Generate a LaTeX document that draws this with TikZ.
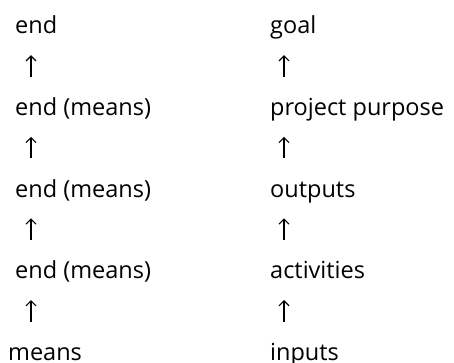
\documentclass[tikz,border=0pt]{standalone}
\usepackage{fontspec}
\setmainfont{Open Sans}
\usetikzlibrary{arrows.meta}

\tikzset{
  lbl/.style={anchor=base west, inner sep=0pt, text height=18pt, text depth=5pt,
    font=\fontsize{23.5}{28}\selectfont},
  up/.style={-{Straight Barb[length=5pt,width=10pt]}, line width=1.1pt,
    shorten <=20.6pt, shorten >=16pt}
}

\begin{document}
\begin{tikzpicture}[x=1pt,y=-1pt]
        \useasboundingbox (0,0) rectangle (454,363);
        \coordinate (L) at (31, 0);
        \coordinate (R) at (284, 0);
        % left column
        \node[lbl] (l0) at (15, 34) {end};
        \node[lbl] (l1) at (15, 115.6) {end (means)};
        \node[lbl] (l2) at (15, 197.2) {end (means)};
        \node[lbl] (l3) at (15, 278.8) {end (means)};
        \node[lbl] (l4) at (8, 360.4) {means};
        % right column
        \node[lbl] (r0) at (270, 34) {goal};
        \node[lbl] (r1) at (270, 115.6) {project purpose};
        \node[lbl] (r2) at (270, 197.2) {outputs};
        \node[lbl] (r3) at (270, 278.8) {activities};
        \node[lbl] (r4) at (270, 360.4) {inputs};
        % arrows
        \draw[up] (l1.north -| L) -- (l0.south -| L); \draw[up] (l2.north -| L) -- (l1.south -| L);
        \draw[up] (l3.north -| L) -- (l2.south -| L); \draw[up] (l4.north -| L) -- (l3.south -| L);
        \draw[up] (r1.north -| R) -- (r0.south -| R); \draw[up] (r2.north -| R) -- (r1.south -| R);
        \draw[up] (r3.north -| R) -- (r2.south -| R); \draw[up] (r4.north -| R) -- (r3.south -| R);
    \end{tikzpicture}
\end{document}
